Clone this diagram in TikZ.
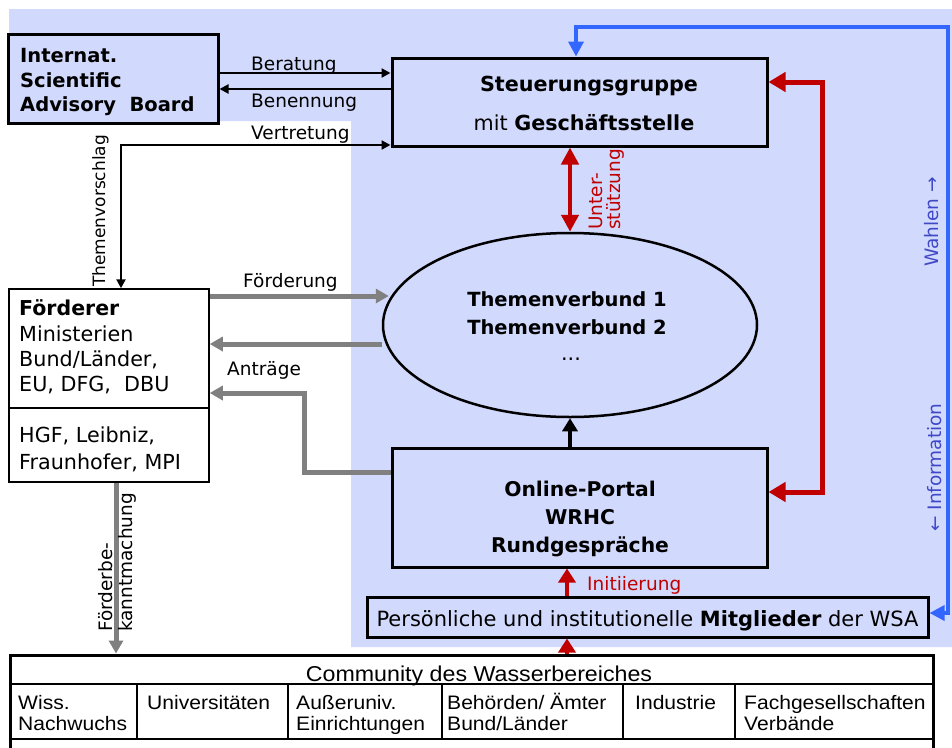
\documentclass[tikz,border=0pt]{standalone}
\usepackage{fontspec}
\setmainfont{DejaVu Sans}
\newfontfamily\comfont[FakeStretch=1.08]{Liberation Sans}
\usetikzlibrary{arrows.meta,shapes.geometric}
\definecolor{bgblue}{RGB}{209,217,252}
\definecolor{dred}{RGB}{192,0,0}
\definecolor{lblue}{RGB}{51,102,255}
\definecolor{txtblue}{RGB}{64,72,200}
\definecolor{agray}{RGB}{128,128,128}
\tikzset{
  lbl/.style={font=\fontsize{18.5}{22}\selectfont, inner sep=0pt},
  btxt/.style={font=\fontsize{19.5}{23}\selectfont\bfseries, inner sep=0pt},
  ntxt/.style={font=\fontsize{20.7}{24}\selectfont, inner sep=0pt},
  ctxt/.style={font=\comfont\fontsize{19.5}{23}\selectfont, inner sep=0pt},
  ctitle/.style={font=\comfont\fontsize{21.5}{25}\selectfont, inner sep=0pt},
  thickbox/.style={draw=black, line width=3pt, fill=bgblue, inner sep=0pt},
  blk/.style={line width=2.2pt, -{Triangle[length=9pt,width=9pt]}},
  gry/.style={line width=5pt, draw=agray, -{Triangle[length=13pt,width=14pt]}},
  redarr/.style={line width=4.5pt, draw=dred, -{Triangle[length=14pt,width=17pt]}},
  bluarr/.style={line width=3.5pt, draw=lblue, {Triangle[length=15pt,width=15pt]}-{Triangle[length=15pt,width=15pt]}},
}
\begin{document}
\begin{tikzpicture}[x=1pt,y=-1pt]
\useasboundingbox (0,0) rectangle (952,747);
\clip (0,0) rectangle (952,747);
% background
\fill[bgblue] (9,9) -- (952,9) -- (952,647) -- (351,647) -- (351,121) -- (9,121) -- cycle;

% nodes
\node[thickbox, minimum width=210pt, minimum height=89pt] (adv) at (113,78.5) {};
\node[btxt, anchor=base west] (adv1) at (20,62) {Internat.};
\node[btxt, anchor=base west] (adv2) at (20,87) {Scientific};
\node[btxt, anchor=base west] (adv3) at (20,111) {Advisory\ \ Board};

\node[thickbox, minimum width=375pt, minimum height=88pt] (steu) at (579.5,102) {};
\node[btxt, anchor=base, font=\fontsize{20.7}{24}\selectfont\bfseries] (steu1) at (589,91) {Steuerungsgruppe};
\node[ntxt, anchor=base] (steu2) at (584,130) {mit \textbf{Geschäftsstelle}};

\node[draw=black, line width=2.5pt, fill=bgblue, ellipse, inner sep=0pt,
      minimum width=374pt, minimum height=184pt] (ell) at (570,325) {};
\node[btxt, anchor=base] (ell1) at (567,306) {Themenverbund 1};
\node[btxt, anchor=base] (ell2) at (567,334) {Themenverbund 2};
\node[ntxt, anchor=base] (ell3) at (571,360) {...};

\node[draw=black, line width=1.5pt, fill=white, inner sep=0pt,
      minimum width=200pt, minimum height=193pt] (foe) at (109,385.5) {};
\coordinate (fdiv) at (0,408);
\draw[line width=2pt] (foe.west |- fdiv) -- (foe.east |- fdiv);
\node[ntxt, anchor=base west, font=\fontsize{20.5}{24}\selectfont\bfseries] (foe1) at (19,315) {Förderer};
\node[ntxt, anchor=base west] (foe2) at (19,341) {Ministerien};
\node[ntxt, anchor=base west] (foe3) at (19,366) {Bund/Länder,};
\node[ntxt, anchor=base west] (foe4) at (19,391) {EU,\ DFG,\ \ DBU};
\node[ntxt, anchor=base west] (foe5) at (19,442) {HGF,\ Leibniz,};
\node[ntxt, anchor=base west] (foe6) at (19,469) {Fraunhofer,\ MPI};

\node[thickbox, minimum width=375pt, minimum height=119pt] (portal) at (579.5,507.5) {};
\node[btxt, anchor=base, font=\fontsize{20.3}{24}\selectfont\bfseries] (por1) at (580,496) {Online-Portal};
\node[btxt, anchor=base, font=\fontsize{20.3}{24}\selectfont\bfseries] (por2) at (580,524) {WRHC};
\node[btxt, anchor=base, font=\fontsize{20.3}{24}\selectfont\bfseries] (por3) at (580,552) {Rundgespräche};

\node[thickbox, minimum width=561pt, minimum height=40pt] (mit) at (647.5,617) {};
\node[ntxt, anchor=base, font=\fontsize{21}{24}\selectfont] (mittxt) at (647.5,626) {Persönliche und institutionelle \textbf{Mitglieder} der WSA};

% community table
\node[draw=black, line width=3pt, fill=white, inner sep=0pt,
      minimum width=923pt, minimum height=110pt] (com) at (471.5,710) {};
\coordinate (crow) at (0,684);
\coordinate (cbot) at (0,739);
\draw[line width=1.5pt] (com.west |- crow) -- (com.east |- crow);
\draw[line width=1.5pt] (com.west |- cbot) -- (com.east |- cbot);
\foreach \cx in {137,288,442,623,735}
  \draw[line width=1.5pt] (\cx,684) -- (\cx,739);
\node[ctitle, anchor=base] (comt) at (479,681) {Community des Wasserbereiches};
\node[ctxt, anchor=base west] (c1a) at (18,709) {Wiss.};
\node[ctxt, anchor=base west] (c1b) at (18,730) {Nachwuchs};
\node[ctxt, anchor=base west] (c2a) at (147,709) {Universitäten};
\node[ctxt, anchor=base west] (c3a) at (296,709) {Außeruniv.};
\node[ctxt, anchor=base west] (c3b) at (296,730) {Einrichtungen};
\node[ctxt, anchor=base west] (c4a) at (447,709) {Behörden/ Ämter};
\node[ctxt, anchor=base west] (c4b) at (447,730) {Bund/Länder};
\node[ctxt, anchor=base west] (c5a) at (635,709) {Industrie};
\node[ctxt, anchor=base west] (c6a) at (744,709) {Fachgesellschaften};
\node[ctxt, anchor=base west] (c6b) at (744,730) {Verbände};

% black connectors
\coordinate (yber) at (0,73);
\coordinate (yben) at (0,89);
\coordinate (vcorner) at (121,145);
\draw[blk] (adv.east |- yber) -- (steu.west |- yber);
\draw[blk] (steu.west |- yben) -- (adv.east |- yben);
\draw[line width=2.2pt, {Triangle[length=9pt,width=9pt]}-{Triangle[length=9pt,width=9pt]}]
  (steu.west |- vcorner) -- (vcorner) -- (vcorner |- foe.north);
\node[lbl, anchor=base west] (lber) at (251,70) {Beratung};
\node[lbl, anchor=base west] (lben) at (251,107) {Benennung};
\node[lbl, anchor=base west] (lver) at (251,139) {Vertretung};
\node[lbl, rotate=90, anchor=base west, font=\fontsize{17}{20}\selectfont] (lthv) at (105,287) {Themenvorschlag};

% gray connectors
\coordinate (yfoerd) at (0,296);
\coordinate (yret) at (0,344);
\coordinate (ac1) at (304,472);
\coordinate (ac2) at (304,393);
\coordinate (xkm) at (116,0);
\draw[gry] (foe.east |- yfoerd) -- ([xshift=7pt]ell.west |- yfoerd);
\draw[gry] (ell.west |- yret) -- (foe.east |- yret);
\draw[gry] (portal.west |- ac1) -- (ac1) -- (ac2) -- (foe.east |- ac2);
\draw[gry] (foe.south -| xkm) -- (com.north -| xkm);
\node[lbl, anchor=base west] (lfoe) at (243,287) {Förderung};
\node[lbl, anchor=base west] (lant) at (227,375) {Anträge};
\node[lbl, rotate=90, anchor=base west] (lfb1) at (112,632) {Förderbe-};
\node[lbl, rotate=90, anchor=base west] (lfb2) at (132,632) {kanntmachung};

% black up arrow
\draw[line width=4pt, -{Triangle[length=13pt,width=15pt]}] (portal.north -| ell.south) -- (ell.south);

% red connectors
\draw[line width=4.5pt, draw=dred, {Triangle[length=17pt,width=17pt]}-{Triangle[length=17pt,width=17pt]}]
  (steu.south -| ell.north) -- (ell.north);
\node[lbl, text=dred, rotate=90, anchor=base west] (lun1) at (602,230) {Unter-};
\node[lbl, text=dred, rotate=90, anchor=base west] (lun2) at (620,230) {stützung};
\coordinate (rc1) at (822,82);
\coordinate (rc2) at (822,492);
\draw[line width=5pt, draw=dred, {Triangle[length=17pt,width=19pt]}-{Triangle[length=17pt,width=19pt]}]
  (steu.east |- rc1) -- (rc1) -- (rc2) -- (portal.east |- rc2);
\coordinate (xini) at (567,0);
\draw[redarr] (mit.north -| xini) -- (portal.south -| xini);
\draw[redarr] (com.north -| xini) -- (mit.south -| xini);
\node[lbl, text=dred, anchor=base west] (lini) at (587,590) {Initiierung};

% blue connector
\coordinate (bc1) at (948,613);
\coordinate (bc2) at (948,27);
\coordinate (bc3) at (576,27);
\draw[bluarr] (mit.east |- bc1) -- (bc1) -- (bc2) -- (bc3) -- (bc3 |- steu.north);
\node[lbl, text=txtblue, rotate=90, anchor=base west] (lwah) at (938,267) {Wahlen →};
\node[lbl, text=txtblue, rotate=90, anchor=base west] (linf) at (941,532) {← Information};
\end{tikzpicture}
\end{document}
